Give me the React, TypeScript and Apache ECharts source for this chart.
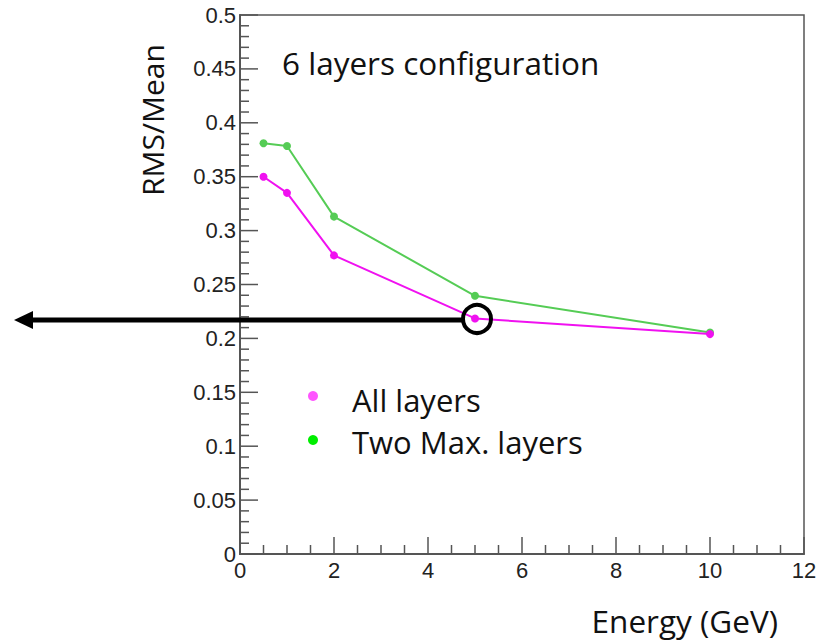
import React, { useEffect, useRef } from "react";
import * as echarts from "echarts";

const energies = [0.5, 1, 2, 5, 10];
const allLayers = [0.35, 0.335, 0.277, 0.2185, 0.204];
const twoMaxLayers = [0.381, 0.3785, 0.313, 0.2395, 0.2055];
const seriesNames = ["All layers", "Two Max. layers"];
const titleText = "6 layers configuration";
const xName = "Energy (GeV)";
const yName = "RMS/Mean";

const FONT = "'Open Sans', 'Noto Sans', sans-serif";
const TICKFONT = "'Liberation Sans', Arial, sans-serif";

// tick positions: [value, kind] kind 0=x major,1=x minor,2=y major,3=y minor
const tickData: number[][] = [];
for (let i = 0; i <= 24; i++) tickData.push([i * 0.5, i % 4 === 0 ? 0 : 1]);
for (let i = 0; i <= 50; i++) tickData.push([Math.round(i) / 100, i % 5 === 0 ? 2 : 3]);

export default function App() {
  const ref = useRef<HTMLDivElement>(null);
  useEffect(() => {
    if (!ref.current) return;
    const chart = echarts.init(ref.current, null, { renderer: "svg" });
    const axisLine = { show: true, lineStyle: { color: "#555", width: 2 } };
    const tickColor = "#555";
    chart.setOption({
      animation: false,
      backgroundColor: "#fff",
      grid: {
        left: 240,
        top: 15,
        right: 17,
        bottom: 86,
        show: true,
        borderColor: "#555",
        borderWidth: 1.5,
      },
      xAxis: {
        type: "value",
        min: 0,
        max: 12,
        interval: 2,
        axisLine,
        axisTick: { show: false },
        minorTick: { show: false },
        splitLine: { show: false },
        axisLabel: {
          color: "#222",
          fontSize: 22,
          fontFamily: TICKFONT,
          margin: 5,
          showMinLabel: true,
          showMaxLabel: true,
        },
      },
      yAxis: {
        type: "value",
        min: 0,
        max: 0.5,
        interval: 0.05,
        axisLine,
        axisTick: { show: false },
        minorTick: { show: false },
        splitLine: { show: false },
        axisLabel: {
          color: "#222",
          fontSize: 22,
          fontFamily: TICKFONT,
          margin: 4,
          formatter: (v: number) => String(Math.round(v * 100) / 100),
        },
      },
      series: [
        {
          type: "custom",
          silent: true,
          clip: false,
          data: tickData,
          encode: { x: 0, y: 1 },
          renderItem: (params: any, api: any) => {
            const v = api.value(0);
            const kind = api.value(1);
            if (kind < 2) {
              const p = api.coord([v, 0]);
              const len = kind === 0 ? 17 : 9;
              return {
                type: "line",
                shape: { x1: p[0], y1: p[1], x2: p[0], y2: p[1] - len },
                style: { stroke: tickColor, lineWidth: 1.5 },
              };
            }
            const p = api.coord([0, v]);
            const len = kind === 2 ? 18 : 9;
            return {
              type: "line",
              shape: { x1: p[0], y1: p[1], x2: p[0] + len, y2: p[1] },
              style: { stroke: tickColor, lineWidth: 1.5 },
            };
          },
          z: 1,
        },
        {
          name: seriesNames[0],
          type: "line",
          data: energies.map((e, i) => [e, allLayers[i]]),
          symbol: "circle",
          symbolSize: 8,
          lineStyle: { color: "#f011f0", width: 2 },
          itemStyle: { color: "#f011f0" },
          z: 3,
        },
        {
          name: seriesNames[1],
          type: "line",
          data: energies.map((e, i) => [e, twoMaxLayers[i]]),
          symbol: "circle",
          symbolSize: 8,
          lineStyle: { color: "#55cc55", width: 2 },
          itemStyle: { color: "#55cc55" },
          z: 2,
        },
      ],
      graphic: [
        {
          type: "text",
          x: 282,
          y: 62,
          style: { text: titleText, font: `31.5px ${FONT}`, fill: "#111", verticalAlign: "middle" },
        },
        {
          type: "text",
          x: 152,
          y: 120,
          rotation: Math.PI / 2,
          style: {
            text: yName,
            font: `30px ${FONT}`,
            fill: "#111",
            align: "center",
            verticalAlign: "middle",
          },
        },
        {
          type: "text",
          x: 778,
          y: 620,
          style: { text: xName, font: `31.5px ${FONT}`, fill: "#111", align: "right", verticalAlign: "middle", lineHeight: 34 },
        },
        { type: "circle", shape: { cx: 313, cy: 396, r: 5 }, style: { fill: "#ff55ff" } },
        { type: "circle", shape: { cx: 313, cy: 440, r: 5 }, style: { fill: "#00ee00" } },
        {
          type: "text",
          x: 352,
          y: 400,
          style: { text: seriesNames[0], font: `31px ${FONT}`, fill: "#111", verticalAlign: "middle" },
        },
        {
          type: "text",
          x: 352,
          y: 442,
          style: { text: seriesNames[1], font: `31px ${FONT}`, fill: "#111", verticalAlign: "middle" },
        },
        {
          type: "line",
          shape: { x1: 30, y1: 320, x2: 463, y2: 320 },
          style: { stroke: "#000", lineWidth: 5 },
          z: 10,
        },
        {
          type: "polygon",
          shape: { points: [[14, 320], [33, 311], [33, 329]] },
          style: { fill: "#000" },
          z: 10,
        },
        {
          type: "circle",
          shape: { cx: 477, cy: 319, r: 14 },
          style: { fill: "none", stroke: "#000", lineWidth: 4 },
          z: 10,
        },
      ],
    });
    return () => chart.dispose();
  }, []);
  return (
    <div
      ref={ref}
      style={{ position: "fixed", left: 0, top: 0, width: 821, height: 640, background: "#fff" }}
    />
  );
}
